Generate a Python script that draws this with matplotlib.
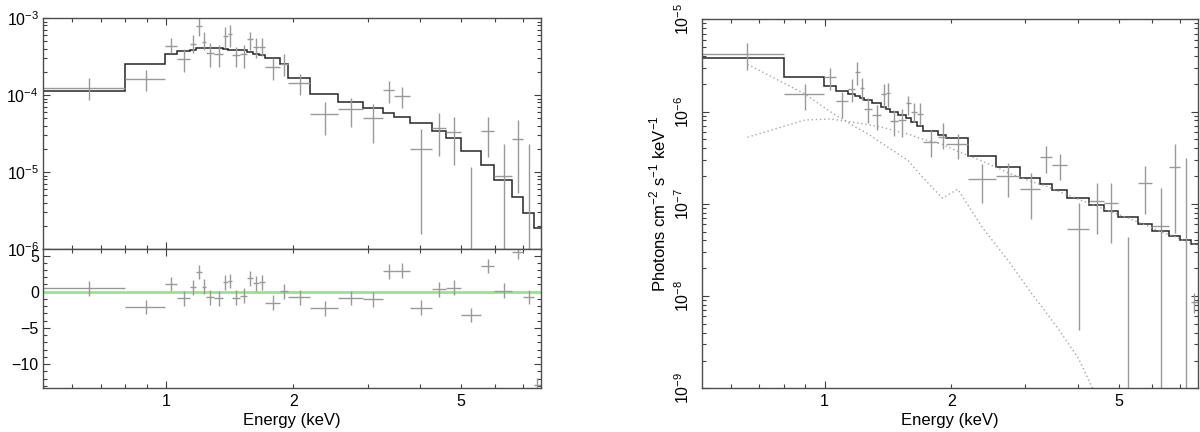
import numpy as np
import matplotlib
matplotlib.use("Agg")
import matplotlib.pyplot as plt
from matplotlib.ticker import FixedLocator, FuncFormatter, NullFormatter, LogLocator, MultipleLocator

plt.rcParams['font.family'] = ['Liberation Sans', 'DejaVu Sans']
plt.rcParams['mathtext.fontset'] = 'custom'
plt.rcParams['mathtext.rm'] = 'Liberation Sans'
plt.rcParams['axes.linewidth'] = 1.0

# energy bin edges (keV), shared by both panels
bin_edges = [0.511, 0.80, 0.995, 1.064, 1.139, 1.178, 1.215, 1.241, 1.299, 1.365,
             1.398, 1.43, 1.497, 1.558, 1.604, 1.662, 1.716, 1.865, 1.948, 2.196,
             2.55, 2.92, 3.26, 3.47, 3.77, 4.26, 4.61, 4.98, 5.56, 5.99, 6.6, 7.0,
             7.43, 7.72]

# left panel: folded spectrum
rate_val = [1.23e-4, 1.62e-4, 4.37e-4, 2.94e-4, 4.55e-4, 7.94e-4, 4.83e-4, 3.47e-4,
            3.37e-4, 5.83e-4, 6.2e-4, 3.31e-4, 3.4e-4, 5.33e-4, 4.16e-4, 4.25e-4,
            2.29e-4, 2.5e-4, 1.44e-4, 5.6e-5, 6.58e-5, 5.03e-5, 1.16e-4, 9.7e-5,
            2.0e-5, 3.77e-5, 3.27e-5, 5e-7, 3.44e-5, 8.87e-6, 2.69e-5, 5e-7, 4.4e-7]
rate_hi = [1.66e-4, 2.11e-4, 5.44e-4, 3.92e-4, 6.0e-4, 9.9e-4, 6.64e-4, 4.69e-4,
           4.46e-4, 7.71e-4, 8.11e-4, 4.25e-4, 4.46e-4, 6.64e-4, 5.44e-4, 5.44e-4,
           2.99e-4, 3.4e-4, 1.87e-4, 8.18e-5, 9.05e-5, 7.64e-5, 1.54e-4, 1.26e-4,
           3.66e-5, 5.9e-5, 5.22e-5, 1.17e-5, 5.22e-5, 2.31e-5, 4.73e-5, 2.31e-5, 6.0e-7]
rate_lo = [8.6e-5, 1.12e-4, 3.47e-4, 2.01e-4, 3.47e-4, 5.83e-4, 3.84e-4, 2.33e-4,
           2.33e-4, 4.04e-4, 4.25e-4, 2.29e-4, 2.22e-4, 3.84e-4, 2.99e-4, 3.17e-4,
           1.57e-4, 1.78e-4, 1.0e-4, 3.03e-5, 3.87e-5, 2.36e-5, 7.8e-5, 6.7e-5,
           1.58e-6, 1.61e-5, 1.23e-5, 1e-7, 1.58e-5, 1e-7, 5.28e-6, 1e-7, 3e-7]
rate_model = [1.14e-4, 2.53e-4, 3.44e-4, 3.69e-4, 3.9e-4, 4.03e-4, 4.12e-4, 4.12e-4,
              4.03e-4, 3.97e-4, 3.9e-4, 3.85e-4, 3.8e-4, 3.58e-4, 3.38e-4, 3.3e-4,
              3.06e-4, 2.5e-4, 1.68e-4, 1.02e-4, 8.18e-5, 6.7e-5, 5.9e-5, 5.2e-5,
              4.3e-5, 3.4e-5, 2.74e-5, 1.88e-5, 1.23e-5, 7.87e-6, 4.69e-6, 2.96e-6, 1.85e-6]
residuals = [0.47, -2.08, 1.07, -0.92, 0.6, 2.7, 0.7, -0.78, -0.92, 1.3, 1.5, -0.8,
             -0.55, 1.85, 1.15, 1.3, -1.5, 0.05, -0.78, -2.3, -0.9, -1.05, 2.8, 2.9,
             -2.2, 0.33, 0.56, -3.2, 3.57, 0.14, 5.55, -0.7, -12.9]

# right panel: unfolded spectrum
flux_val = [4.18e-6, 1.54e-6, 2.35e-6, 1.31e-6, 1.75e-6, 2.70e-6, 1.79e-6, 1.06e-6,
            9.2e-7, 1.54e-6, 1.60e-6, 7.9e-7, 8.1e-7, 1.23e-6, 1.0e-6, 9.5e-7,
            4.65e-7, 5.33e-7, 4.42e-7, 1.86e-7, 2.0e-7, 1.43e-7, 3.19e-7, 2.63e-7,
            5.28e-8, 1.08e-7, 1.03e-7, 1e-10, 1.67e-7, 5.75e-8, 2.49e-7, 1e-10, 8.7e-9]
flux_hi = [5.5e-6, 1.99e-6, 2.94e-6, 1.64e-6, 2.24e-6, 3.47e-6, 2.29e-6, 1.39e-6,
           1.18e-6, 1.99e-6, 2.06e-6, 1.04e-6, 1.06e-6, 1.48e-6, 1.23e-6, 1.23e-6,
           6.31e-7, 7.46e-7, 5.71e-7, 2.7e-7, 2.75e-7, 2.14e-7, 4.24e-7, 3.44e-7,
           1.02e-7, 1.69e-7, 1.67e-7, 4.4e-8, 2.57e-7, 1.48e-7, 4.42e-7, 3.11e-7, 1.08e-8]
flux_lo = [2.82e-6, 1.04e-6, 1.71e-6, 8.45e-7, 1.28e-6, 1.94e-6, 1.33e-6, 7.46e-7,
           6.31e-7, 1.08e-6, 1.13e-6, 5.43e-7, 5.33e-7, 9.18e-7, 7.76e-7, 7.14e-7,
           3.24e-7, 3.9e-7, 3.03e-7, 1.01e-7, 1.17e-7, 6.8e-8, 2.14e-7, 1.81e-7,
           4.28e-9, 4.68e-8, 3.8e-8, 1e-11, 7.76e-8, 1e-11, 4.79e-8, 1e-11, 6.6e-9]
flux_model = [3.78e-6, 2.37e-6, 1.88e-6, 1.66e-6, 1.56e-6, 1.48e-6, 1.41e-6, 1.33e-6,
              1.23e-6, 1.13e-6, 1.07e-6, 1.0e-6, 9.18e-7, 8.45e-7, 7.64e-7, 6.97e-7,
              6.2e-7, 5.57e-7, 5.15e-7, 3.32e-7, 2.48e-7, 1.92e-7, 1.64e-7, 1.41e-7,
              1.16e-7, 9.7e-8, 8.4e-8, 7.1e-8, 6.0e-8, 5.1e-8, 4.5e-8, 4.0e-8, 3.64e-8]
comp_soft = [3.25e-6, 1.55e-6, 1.0e-6, 8.3e-7, 7.2e-7, 6.6e-7, 6.2e-7, 5.7e-7, 4.9e-7,
             4.4e-7, 4.1e-7, 3.7e-7, 3.25e-7, 2.93e-7, 2.45e-7, 2.07e-7, 1.55e-7,
             1.15e-7, 1.44e-7, 5.5e-8, 2.4e-8, 1.1e-8, 6.6e-9, 4.2e-9, 2.1e-9, 8e-10, 3e-10]
comp_hard = [5.26e-7, 8.1e-7, 8.3e-7, 7.96e-7, 7.7e-7, 7.5e-7, 7.4e-7, 7.2e-7, 6.9e-7,
             6.7e-7, 6.5e-7, 6.2e-7, 5.9e-7, 5.7e-7, 5.4e-7, 5.1e-7, 4.75e-7, 4.4e-7,
             3.7e-7, 2.9e-7, 2.15e-7, 1.75e-7, 1.55e-7, 1.35e-7, 1.12e-7, 9.4e-8,
             8.2e-8, 7.0e-8, 5.9e-8, 5.0e-8, 4.4e-8, 3.9e-8, 3.6e-8]

DATA_COLOR = "0.6"
MODEL_COLOR = "0.15"
COMP_COLOR = "0.65"
EMIN, EMAX = 0.511, 7.72

edges = np.array(bin_edges)
centers = 0.5 * (edges[:-1] + edges[1:])
xerr = [centers - edges[:-1], edges[1:] - centers]


def yerr_from(val, lo, hi):
    val = np.array(val)
    return [val - np.array(lo), np.array(hi) - val]


def energy_axis(ax, labels=True):
    ax.set_xscale("log")
    ax.set_xlim(EMIN, EMAX)
    ax.xaxis.set_major_locator(FixedLocator([1]))
    ax.xaxis.set_minor_locator(FixedLocator([0.6, 0.7, 0.8, 0.9, 2, 3, 4, 5, 6, 7]))
    if labels:
        ax.xaxis.set_major_formatter(FuncFormatter(lambda v, p: "1"))
        ax.xaxis.set_minor_formatter(FuncFormatter(
            lambda v, p: "%d" % round(v) if round(v) in (2, 5) else ""))
        ax.set_xlabel("Energy (keV)", fontsize=12, labelpad=3)
    else:
        ax.xaxis.set_major_formatter(NullFormatter())
        ax.xaxis.set_minor_formatter(NullFormatter())


def style(ax):
    ax.tick_params(which="both", direction="in", top=True, right=True,
                   labelsize=11.5, color="0.25")
    ax.tick_params(which="major", length=5, width=0.8)
    ax.tick_params(which="minor", length=2.6, width=0.8)
    ax.tick_params(axis="x", which="both", pad=4)
    for s in ax.spines.values():
        s.set_color("0.3")


fig = plt.figure(figsize=(12, 4.32), dpi=100)
ax_top = fig.add_axes([0.0358, 0.4236, 0.415, 0.5347])
ax_res = fig.add_axes([0.0358, 0.1019, 0.415, 0.3217])
ax_unf = fig.add_axes([0.585, 0.1012, 0.4133, 0.8542])

# folded spectrum
ax_top.errorbar(centers, rate_val, xerr=xerr, yerr=yerr_from(rate_val, rate_lo, rate_hi),
                fmt="none", ecolor=DATA_COLOR, elinewidth=1, capsize=0)
ax_top.stairs(rate_model, edges, baseline=None, color=MODEL_COLOR, lw=1.1)
ax_top.set_yscale("log")
ax_top.set_ylim(1e-6, 1e-3)
ax_top.yaxis.set_minor_locator(LogLocator(subs=np.arange(2, 10)))
ax_top.yaxis.set_minor_formatter(NullFormatter())
energy_axis(ax_top, labels=False)
style(ax_top)
ax_top.tick_params(axis="y", pad=3)

# residuals
ax_res.axhline(0, color="#8ee88e", lw=2)
ax_res.errorbar(centers, residuals, xerr=xerr, yerr=1, fmt="none",
                ecolor=DATA_COLOR, elinewidth=1, capsize=0)
ax_res.set_ylim(-13.3, 5.9)
ax_res.yaxis.set_major_locator(FixedLocator([-10, -5, 0, 5]))
ax_res.yaxis.set_major_formatter(FuncFormatter(lambda v, p: "%d" % v if v >= 0 else "\u2212%d" % -v))
ax_res.yaxis.set_minor_locator(MultipleLocator(1))
energy_axis(ax_res)
style(ax_res)
ax_res.tick_params(axis="y", pad=3)

# unfolded spectrum
ax_unf.errorbar(centers, flux_val, xerr=xerr, yerr=yerr_from(flux_val, flux_lo, flux_hi),
                fmt="none", ecolor=DATA_COLOR, elinewidth=1, capsize=0)
ax_unf.stairs(flux_model, edges, baseline=None, color=MODEL_COLOR, lw=1.1)
ax_unf.plot(centers[:len(comp_soft)], comp_soft, color=COMP_COLOR, lw=1, ls=(0, (1, 2)))
ax_unf.plot(centers, comp_hard, color=COMP_COLOR, lw=1, ls=(0, (1, 2)))
ax_unf.set_yscale("log")
ax_unf.set_ylim(1e-9, 1e-5)
ax_unf.yaxis.set_minor_locator(LogLocator(subs=np.arange(2, 10)))
ax_unf.yaxis.set_minor_formatter(NullFormatter())
energy_axis(ax_unf)
style(ax_unf)
ax_unf.tick_params(axis="y", pad=7, labelrotation=90)
plt.setp(ax_unf.get_yticklabels(), va="center")
ax_unf.set_ylabel("Photons cm$^{-2}$ s$^{-1}$ keV$^{-1}$", fontsize=12, labelpad=4)

fig.savefig("out.png", dpi=100)
